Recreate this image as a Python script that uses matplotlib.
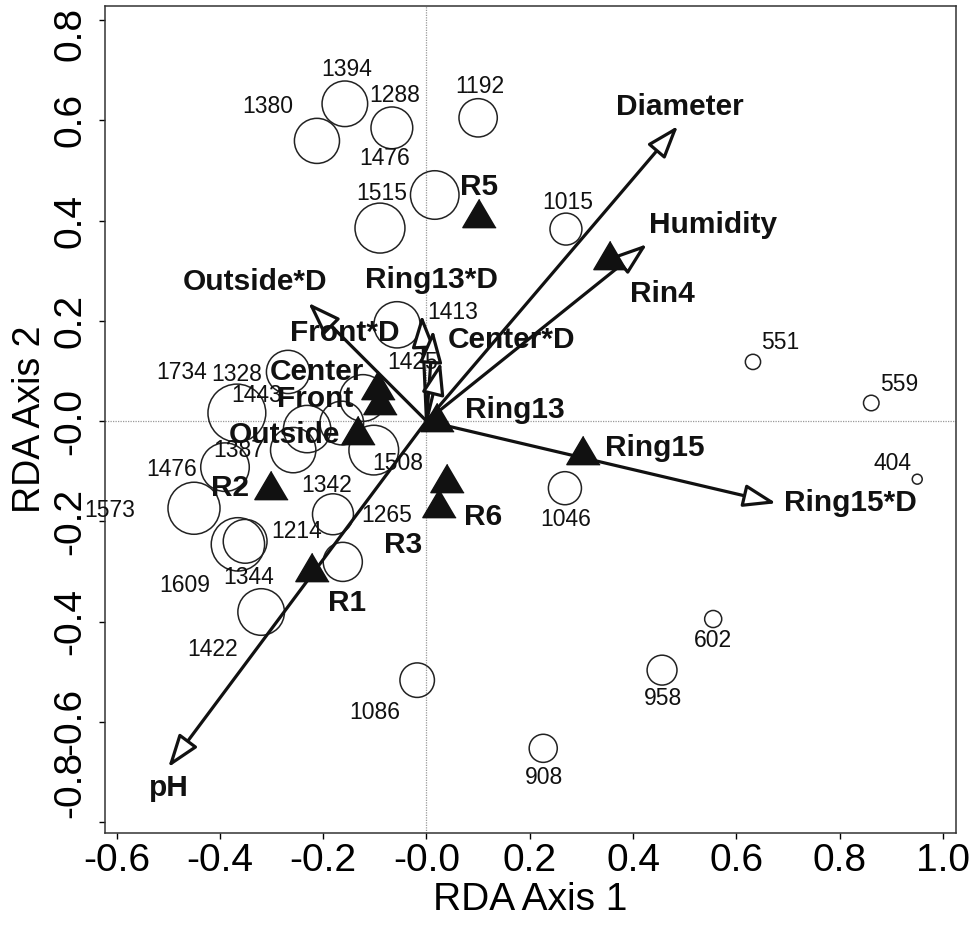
import matplotlib
matplotlib.use("Agg")
import matplotlib.pyplot as plt
from matplotlib.patches import FancyArrowPatch
from matplotlib.transforms import ScaledTranslation

# site scores (open circles); circle size follows the site value
site_value = [1394, 1380, 1288, 1192, 1476, 1515, 1015, 1413, 1425, 1734,
              1328, 1443, 1387, 1476, 1508, 1573, 1342, 1265, 1214, 1609,
              1344, 1422, 551, 559, 404, 1046, 602, 958, 1086, 908]
site_x = [-0.158, -0.212, -0.067, 0.100, 0.016, -0.090, 0.270, -0.057, -0.123, -0.367,
          -0.268, -0.231, -0.258, -0.390, -0.102, -0.450, -0.164, -0.181, -0.162, -0.365,
          -0.351, -0.320, 0.632, 0.861, 0.950, 0.268, 0.555, 0.456, -0.018, 0.226]
site_y = [0.633, 0.559, 0.585, 0.605, 0.451, 0.385, 0.383, 0.192, 0.046, 0.016,
          0.098, -0.016, -0.058, -0.092, -0.058, -0.174, -0.004, -0.186, -0.281, -0.246,
          -0.240, -0.381, 0.118, 0.036, -0.116, -0.134, -0.395, -0.497, -0.517, -0.653]

# factor centroids (filled triangles)
cent_names = ["R5", "Rin4", "Center", "Front", "Outside", "Ring13", "Ring15",
              "R2", "R3", "R6", "R1"]
cent_x = [0.102, 0.355, -0.094, -0.090, -0.133, 0.020, 0.303, -0.301, 0.024, 0.040, -0.222]
cent_y = [0.415, 0.331, 0.072, 0.042, -0.018, 0.008, -0.058, -0.128, -0.164, -0.114, -0.291]

# environmental vectors (arrows)
vec_names = ["Diameter", "Humidity", "Ring15*D", "pH", "Outside*D",
             "Ring13*D", "Front*D", "Center*D"]
vec_x = [0.487, 0.427, 0.677, -0.500, -0.229, -0.009, 0.013, 0.028]
vec_y = [0.589, 0.353, -0.164, -0.691, 0.236, 0.212, 0.182, 0.118]

xticks = [-0.6, -0.4, -0.2, 0.0, 0.2, 0.4, 0.6, 0.8, 1.0]
xtick_labels = ["-0.6", "-0.4", "-0.2", "-0.0", "0.2", "0.4", "0.6", "0.8", "1.0"]
yticks = [-0.8, -0.6, -0.4, -0.2, 0.0, 0.2, 0.4, 0.6, 0.8]
ytick_labels = ["-0.8", "-0.6", "-0.4", "-0.2", "-0.0", "0.2", "0.4", "0.6", "0.8"]

# label offsets (pixels, right / down) from their marks
site_off = [(2, -34), (-49, -34), (3, -32), (2, -31), (-50, -37), (2, -35), (2, -27),
            (56, -12), (50, -35), (-55, -41), (-51, 3), (-51, -34), (-55, 0), (-53, 2),
            (24, 13), (-84, 2), (-15, 62), (54, 1), (-46, -30), (-53, 41), (3, 36),
            (-49, 38), (27, -19), (28, -19), (-25, -16), (1, 31), (0, 21), (1, 28),
            (-42, 32), (1, 29)]
cent_off = [(0, -26), (53, 39), (-61, -13), (-65, -1), (-73, 5), (78, -7), (72, -2),
            (-41, 3), (-36, 42), (36, 39), (35, 36)]
vec_off = [(2, -19), (66, -19), (74, 0), (1, 21), (-53, -21), (10, -35), (-88, 3), (71, -22)]

plt.rcParams["font.family"] = "Liberation Sans"

PX = 0.72  # points per pixel at dpi 100
INK = "#111111"

fig = plt.figure(figsize=(9.76, 9.32), dpi=100)
ax = fig.add_axes([0.1072, 0.1062, 0.8723, 0.8873])
ax.set_xlim(-0.623, 1.025)
ax.set_ylim(-0.822, 0.828)

ax.axhline(0, color="#999999", lw=0.9, ls=(0, (1, 1)), zorder=0)
ax.axvline(0, color="#999999", lw=0.9, ls=(0, (1, 1)), zorder=0)

# circles
sizes = [(2 * PX * (0.018 * v - 2.3)) ** 2 for v in site_value]
ax.scatter(site_x, site_y, s=sizes, facecolors="none", edgecolors="#222222",
           linewidths=1.1, zorder=2)
for lab, x, y, (dx, dy) in zip(site_value, site_x, site_y, site_off):
    ax.annotate(str(lab), (x, y), xytext=(dx * PX, -dy * PX), textcoords="offset points",
                ha="center", va="center", fontsize=16.5, color=INK, zorder=5)

# arrows
for name, x, y, (dx, dy) in zip(vec_names, vec_x, vec_y, vec_off):
    arr = FancyArrowPatch((0, 0), (x, y),
                          arrowstyle="-|>,head_length=2.0,head_width=0.7",
                          mutation_scale=10, lw=2.3, fc="white", ec=INK,
                          shrinkA=0, shrinkB=0, zorder=3)
    ax.add_patch(arr)
    ax.annotate(name, (x, y), xytext=(dx * PX, -dy * PX), textcoords="offset points",
                ha="center", va="center", fontsize=21.5, fontweight="bold",
                color=INK, zorder=6)

# triangles (a little wider than tall)
tri = [(0, 0.85), (-1, -0.85), (1, -0.85)]
ax.plot(cent_x, cent_y, marker=tri, color=INK, ms=24, ls="none", zorder=4)
for name, x, y, (dx, dy) in zip(cent_names, cent_x, cent_y, cent_off):
    ax.annotate(name, (x, y), xytext=(dx * PX, -dy * PX), textcoords="offset points",
                ha="center", va="center", fontsize=21.5, fontweight="bold",
                color=INK, zorder=6)

for sp in ax.spines.values():
    sp.set_linewidth(1.1)
    sp.set_color("#333333")

ax.set_xticks(xticks)
ax.set_xticklabels(xtick_labels, fontsize=28)
ax.set_yticks(yticks)
ax.set_yticklabels(ytick_labels, fontsize=28, rotation=90, va="center")
ax.tick_params(axis="x", direction="out", length=4.5, width=1, pad=3)
ax.tick_params(axis="y", direction="out", length=4.5, width=1, pad=7)
# end labels are pulled inside the axis range, as in the original
ylabs = ax.get_yticklabels()
ylabs[-1].set_transform(ylabs[-1].get_transform()
                        + ScaledTranslation(0, -0.14, fig.dpi_scale_trans))
ylabs[0].set_transform(ylabs[0].get_transform()
                       + ScaledTranslation(0, 0.38, fig.dpi_scale_trans))
ax.set_xlabel("RDA Axis 1", fontsize=28, labelpad=2)
ax.set_ylabel("RDA Axis 2", fontsize=27, labelpad=3)

fig.savefig("out.png", dpi=100)
